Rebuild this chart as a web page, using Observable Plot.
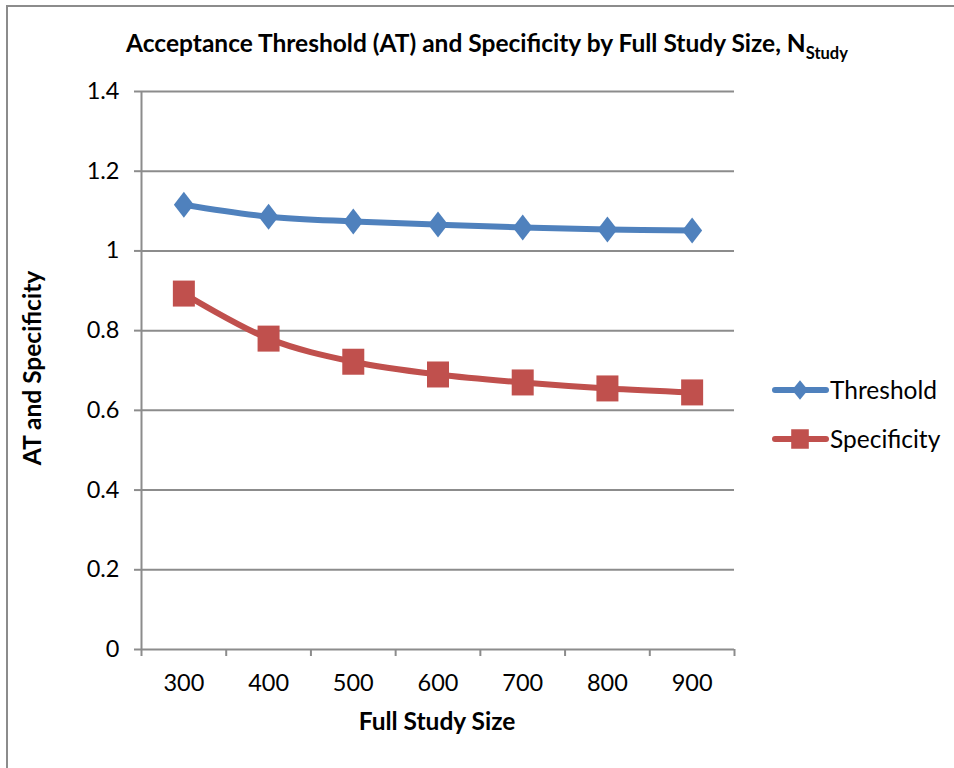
<!DOCTYPE html>
<html><head><meta charset="utf-8">
<script src="https://cdn.jsdelivr.net/npm/d3@7"></script>
<script src="https://cdn.jsdelivr.net/npm/@observablehq/plot@0.6"></script>
<style>
body{margin:0;background:#fff}
#chart{position:relative;width:954px;height:768px;overflow:hidden;background:#fff}
#frame{position:absolute;left:6px;top:5px;right:-10px;bottom:-10px;border-left:2px solid #8c8c8c;border-top:2px solid #8c8c8c;pointer-events:none}
</style>
</head><body>
<div id="chart"><div id="frame"></div></div>
<script>
// ---- data ----
const sizes = [300, 400, 500, 600, 700, 800, 900];
const threshold = [1.116, 1.086, 1.074, 1.066, 1.059, 1.054, 1.051];
const specificity = [0.893, 0.780, 0.722, 0.690, 0.670, 0.655, 0.645];
const yTicks = [0, 0.2, 0.4, 0.6, 0.8, 1, 1.2, 1.4];
const seriesNames = ["Threshold", "Specificity"];
const colors = ["#4F81BD", "#C0504D"];
const titleMain = "Acceptance Threshold (AT) and Specificity by Full Study Size, N";
const titleSub = "Study";
const xTitle = "Full Study Size";
const yTitle = "AT and Specificity";

const data = sizes.flatMap((s, i) => [
  {size: s, value: threshold[i], series: seriesNames[0]},
  {size: s, value: specificity[i], series: seriesNames[1]}
]);
// category boundaries (Excel category axis ticks sit between categories)
const half = (sizes[1] - sizes[0]) / 2;
const boundaries = sizes.map(s => s - half).concat([sizes[sizes.length - 1] + half]);

const diamondSym = {draw(c) { c.moveTo(0, -13); c.lineTo(10, 0); c.lineTo(0, 13); c.lineTo(-10, 0); c.closePath(); }};
const squareSym = {draw(c) { c.rect(-11, -13, 22, 26); }};
const symbols = [diamondSym, squareSym];

const font = "Lato, 'Open Sans', sans-serif";
const grid = "#8c8c8c";
const tickFont = 23.5;
const labelFont = 24.5;

const plot = Plot.plot({
  width: 954, height: 768,
  marginLeft: 141, marginRight: 220, marginTop: 91, marginBottom: 119,
  style: {fontFamily: font, fontSize: tickFont + "px", color: "#000", background: "transparent", overflow: "visible"},
  x: {domain: [boundaries[0], boundaries[boundaries.length - 1]]},
  y: {domain: [0, 1.4]},
  color: {domain: seriesNames, range: colors},
  symbol: {domain: seriesNames, range: symbols},
  marks: [
    Plot.ruleY(yTicks, {stroke: grid, strokeWidth: 2}),
    Plot.ruleX([boundaries[0]], {stroke: grid, strokeWidth: 2}),
    Plot.axisY(yTicks, {tickSize: 7, tickPadding: 15, tickFormat: d => String(d), stroke: grid, strokeWidth: 2, fontSize: tickFont, label: null}),
    Plot.axisX(boundaries, {tickSize: 7, tickFormat: () => "", stroke: grid, strokeWidth: 2, label: null}),
    Plot.axisX(sizes, {tickSize: 0, tickPadding: 25, fontSize: tickFont, label: null}),
    Plot.line(data, {x: "size", y: "value", stroke: "series", strokeWidth: 6, curve: "catmull-rom"}),
    Plot.dot(data, {x: "size", y: "value", symbol: "series", fill: "series", r: 10})
  ]
});
plot.style.position = "absolute";
plot.style.left = "0px";
plot.style.top = "0px";
document.getElementById("chart").appendChild(plot);

const svg = d3.select(plot);
// title
const t = svg.append("text")
  .attr("x", 487).attr("y", 52)
  .attr("text-anchor", "middle")
  .attr("font-family", font).attr("font-weight", "bold").attr("font-size", 24.5)
  .attr("fill", "#000");
t.append("tspan").text(titleMain);
t.append("tspan").attr("dy", 7).attr("font-size", 16.5).text(titleSub);

// axis titles
svg.append("text")
  .attr("x", 437).attr("y", 730)
  .attr("text-anchor", "middle")
  .attr("font-family", font).attr("font-weight", "bold").attr("font-size", labelFont)
  .text(xTitle);
svg.append("text")
  .attr("transform", "translate(41,368) rotate(-90)")
  .attr("text-anchor", "middle")
  .attr("font-family", font).attr("font-weight", "bold").attr("font-size", labelFont)
  .text(yTitle);

// legend
const legY = [390, 439];
seriesNames.forEach((name, i) => {
  const g = svg.append("g").attr("transform", `translate(0,${legY[i]})`);
  g.append("line").attr("x1", 775).attr("x2", 826).attr("y1", 0).attr("y2", 0)
    .attr("stroke", colors[i]).attr("stroke-width", 6).attr("stroke-linecap", "round");
  g.append("path").attr("d", d3.symbol().type(symbols[i])())
    .attr("transform", "translate(800,0) scale(0.8,0.75)")
    .attr("fill", colors[i]);
  g.append("text").attr("x", 830).attr("y", 0).attr("dy", "0.35em")
    .attr("text-anchor", "start")
    .attr("font-family", font).attr("font-size", labelFont).attr("fill", "#000")
    .text(name);
});
</script>
</body></html>
